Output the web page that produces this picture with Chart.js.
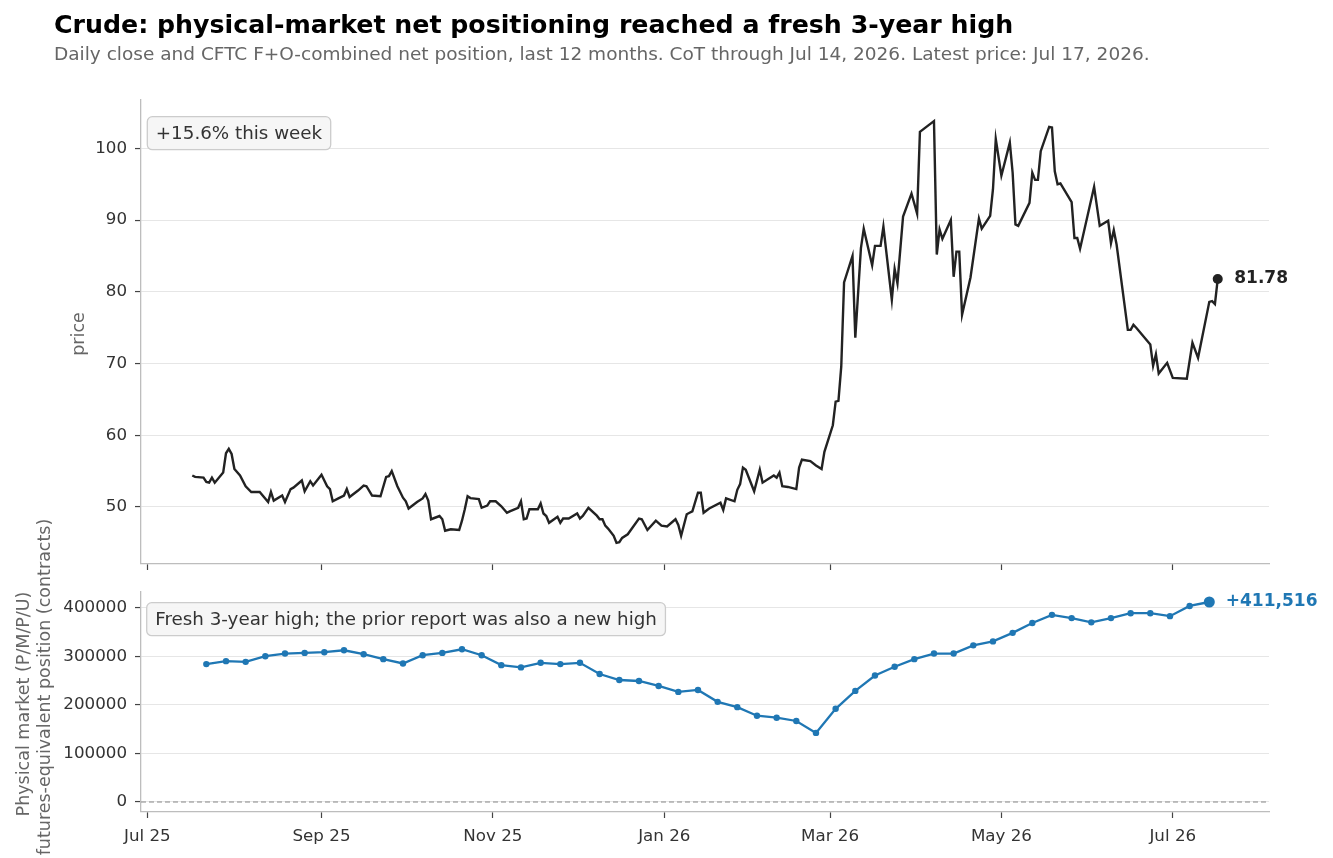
<!DOCTYPE html>
<html lang="en">
<head>
<meta charset="UTF-8">
<title>Crude: physical-market net positioning</title>
<script src="https://cdn.jsdelivr.net/npm/chart.js"></script>
<style>
    html, body { margin: 0; padding: 0; background: #fff; }
    body { width: 1333px; height: 858px; position: relative; overflow: hidden; font-family: 'DejaVu Sans', sans-serif; }
    .title { position: absolute; left: 54px; top: 12px; font-size: 25.25px; line-height: 1; font-weight: bold; color: #000; white-space: nowrap; z-index: 2; }
    .subtitle { position: absolute; left: 54px; top: 44.5px; font-size: 18.5px; line-height: 1; color: #666; white-space: nowrap; z-index: 2; }
    .wrap { position: absolute; left: 0; width: 1333px; }
    #topWrap { top: 0; height: 575px; }
    #botWrap { top: 480px; height: 378px; }
</style>
</head>
<body>
    <div class="wrap" id="topWrap"><canvas id="priceChart"></canvas></div>
    <div class="wrap" id="botWrap"><canvas id="cotChart"></canvas></div>
    <div class="title">Crude: physical-market net positioning reached a fresh 3-year high</div>
    <div class="subtitle">Daily close and CFTC F+O-combined net position, last 12 months. CoT through Jul 14, 2026. Latest price: Jul 17, 2026.</div>

<script>
// Price: daily close (vertices)
const priceDates = [
    '2025-07-17', '2025-07-18', '2025-07-21', '2025-07-22', '2025-07-23', '2025-07-24', '2025-07-25', '2025-07-28', '2025-07-29', '2025-07-30',
    '2025-07-31', '2025-08-01', '2025-08-03', '2025-08-05', '2025-08-07', '2025-08-10', '2025-08-13', '2025-08-14', '2025-08-15', '2025-08-18',
    '2025-08-19', '2025-08-21', '2025-08-22', '2025-08-25', '2025-08-26', '2025-08-28', '2025-08-29', '2025-09-01', '2025-09-03', '2025-09-04',
    '2025-09-05', '2025-09-07', '2025-09-09', '2025-09-10', '2025-09-11', '2025-09-14', '2025-09-16', '2025-09-17', '2025-09-19', '2025-09-22',
    '2025-09-24', '2025-09-25', '2025-09-26', '2025-09-28', '2025-09-30', '2025-10-01', '2025-10-02', '2025-10-05', '2025-10-07', '2025-10-08',
    '2025-10-09', '2025-10-10', '2025-10-13', '2025-10-14', '2025-10-15', '2025-10-17', '2025-10-20', '2025-10-21', '2025-10-22', '2025-10-23',
    '2025-10-24', '2025-10-27', '2025-10-28', '2025-10-30', '2025-10-31', '2025-11-02', '2025-11-04', '2025-11-06', '2025-11-07', '2025-11-10',
    '2025-11-11', '2025-11-12', '2025-11-13', '2025-11-14', '2025-11-17', '2025-11-18', '2025-11-19', '2025-11-20', '2025-11-21', '2025-11-24',
    '2025-11-25', '2025-11-26', '2025-11-28', '2025-12-01', '2025-12-02', '2025-12-03', '2025-12-05', '2025-12-08', '2025-12-09', '2025-12-10',
    '2025-12-11', '2025-12-12', '2025-12-14', '2025-12-15', '2025-12-16', '2025-12-17', '2025-12-19', '2025-12-23', '2025-12-24', '2025-12-26',
    '2025-12-29', '2025-12-31', '2026-01-02', '2026-01-05', '2026-01-06', '2026-01-07', '2026-01-09', '2026-01-10', '2026-01-11', '2026-01-13',
    '2026-01-14', '2026-01-15', '2026-01-17', '2026-01-21', '2026-01-22', '2026-01-23', '2026-01-26', '2026-01-27', '2026-01-28', '2026-01-29',
    '2026-01-30', '2026-02-02', '2026-02-04', '2026-02-05', '2026-02-07', '2026-02-09', '2026-02-10', '2026-02-11', '2026-02-12', '2026-02-14',
    '2026-02-17', '2026-02-18', '2026-02-19', '2026-02-22', '2026-02-24', '2026-02-26', '2026-02-27', '2026-03-02', '2026-03-03', '2026-03-04',
    '2026-03-05', '2026-03-06', '2026-03-09', '2026-03-10', '2026-03-12', '2026-03-13', '2026-03-16', '2026-03-17', '2026-03-19', '2026-03-20',
    '2026-03-23', '2026-03-24', '2026-03-25', '2026-03-27', '2026-03-30', '2026-04-01', '2026-04-02', '2026-04-05', '2026-04-07', '2026-04-08',
    '2026-04-09', '2026-04-10', '2026-04-13', '2026-04-14', '2026-04-15', '2026-04-16', '2026-04-17', '2026-04-20', '2026-04-23', '2026-04-24',
    '2026-04-27', '2026-04-28', '2026-04-29', '2026-05-01', '2026-05-04', '2026-05-05', '2026-05-06', '2026-05-07', '2026-05-11', '2026-05-12',
    '2026-05-13', '2026-05-14', '2026-05-15', '2026-05-18', '2026-05-19', '2026-05-20', '2026-05-21', '2026-05-22', '2026-05-26', '2026-05-27',
    '2026-05-28', '2026-05-29', '2026-06-03', '2026-06-05', '2026-06-08', '2026-06-09', '2026-06-10', '2026-06-11', '2026-06-15', '2026-06-16',
    '2026-06-17', '2026-06-18', '2026-06-23', '2026-06-24', '2026-06-25', '2026-06-26', '2026-06-29', '2026-07-01', '2026-07-06', '2026-07-08',
    '2026-07-10', '2026-07-14', '2026-07-15', '2026-07-16', '2026-07-17'
];
const priceValues = [
    54.4, 54.2, 54.1, 53.5, 53.4, 54.1, 53.4, 54.8, 57.5, 58.1,
    57.4, 55.3, 54.4, 52.9, 52.1, 52.1, 50.7, 52.1, 50.9, 51.6,
    50.7, 52.5, 52.7, 53.7, 52.2, 53.6, 53.0, 54.5, 52.9, 52.5,
    50.8, 51.2, 51.6, 52.5, 51.4, 52.3, 53.0, 52.9, 51.6, 51.5,
    54.2, 54.3, 55.0, 52.9, 51.3, 50.8, 49.8, 50.7, 51.2, 51.8,
    50.9, 48.3, 48.75, 48.3, 46.7, 46.9, 46.8, 48.1, 49.7, 51.5,
    51.25, 51.1, 49.9, 50.2, 50.8, 50.8, 50.1, 49.2, 49.4, 49.9,
    50.8, 48.3, 48.4, 49.7, 49.7, 50.5, 49.1, 48.75, 47.8, 48.65,
    47.8, 48.4, 48.4, 49.1, 48.4, 48.75, 49.9, 48.8, 48.3, 48.3,
    47.4, 47.0, 46.0, 45.0, 45.1, 45.7, 46.2, 48.4, 48.3, 46.8,
    48.1, 47.4, 47.3, 48.3, 47.5, 46.0, 49.0, 49.2, 49.4, 52.0,
    52.0, 49.2, 49.8, 50.6, 49.6, 51.2, 50.8, 52.4, 53.2, 55.5,
    55.2, 52.2, 55.2, 53.4, 53.9, 54.4, 54.1, 54.8, 52.9, 52.8,
    52.5, 55.5, 56.6, 56.4, 55.8, 55.3, 57.7, 61.4, 64.7, 64.8,
    69.6, 81.3, 85.0, 73.6, 86.1, 88.8, 83.7, 86.4, 86.4, 89.1,
    78.9, 83.2, 81.2, 90.5, 93.7, 90.9, 102.3, 103.2, 103.8, 85.2,
    88.7, 87.4, 90.0, 82.1, 85.6, 85.6, 76.8, 82.0, 90.2, 88.8,
    90.6, 94.3, 101.3, 96.2, 100.8, 96.6, 89.4, 89.2, 92.4, 96.6,
    95.6, 95.6, 99.6, 103.0, 102.9, 96.8, 95.0, 95.1, 92.5, 87.5,
    87.5, 86.0, 94.65, 89.2, 89.9, 86.8, 88.6, 86.6, 74.7, 74.7,
    75.4, 75.0, 72.65, 69.7, 71.3, 68.6, 70.1, 68.0, 67.9, 72.9,
    70.8, 78.6, 78.7, 78.3, 81.78
];

// CoT report dates (Tuesdays) and physical-market net position, contracts
const cotDates = [
    '2025-07-22', '2025-07-29', '2025-08-05', '2025-08-12', '2025-08-19', '2025-08-26', '2025-09-02', '2025-09-09', '2025-09-16', '2025-09-23',
    '2025-09-30', '2025-10-07', '2025-10-14', '2025-10-21', '2025-10-28', '2025-11-04', '2025-11-11', '2025-11-18', '2025-11-25', '2025-12-02',
    '2025-12-09', '2025-12-16', '2025-12-23', '2025-12-30', '2026-01-06', '2026-01-13', '2026-01-20', '2026-01-27', '2026-02-03', '2026-02-10',
    '2026-02-17', '2026-02-24', '2026-03-03', '2026-03-10', '2026-03-17', '2026-03-24', '2026-03-31', '2026-04-07', '2026-04-14', '2026-04-21',
    '2026-04-28', '2026-05-05', '2026-05-12', '2026-05-19', '2026-05-26', '2026-06-02', '2026-06-09', '2026-06-16', '2026-06-23', '2026-06-30',
    '2026-07-07', '2026-07-14'
];
const netPhysical = [
    283700, 289800, 288400, 300000, 305400, 306800, 308200, 312200, 304100, 293900,
    285000, 302000, 306800, 314300, 302000, 281600, 276900, 286400, 283700, 286400,
    263300, 251000, 249000, 238800, 226500, 230600, 206100, 195200, 177600, 173500,
    166700, 142200, 191800, 228600, 260300, 278400, 293900, 305400, 305400, 322300,
    330400, 348000, 368200, 385100, 378400, 369600, 378400, 388500, 388500, 382400,
    403400, 411516
];

const monthTicks = ['2025-07-01', '2025-09-01', '2025-11-01', '2026-01-01', '2026-03-01', '2026-05-01', '2026-07-01'];
const monthLabels = ['Jul 25', 'Sep 25', 'Nov 25', 'Jan 26', 'Mar 26', 'May 26', 'Jul 26'];
const priceTicks = [50, 60, 70, 80, 90, 100];
const netTicks = [0, 100000, 200000, 300000, 400000];

const priceLabel = ['price'];
const netLabel = ['Physical market (P/M/P/U)', 'futures-equivalent position (contracts)'];
const weekNote = '+15.6% this week';
const cotNote = 'Fresh 3-year high; the prior report was also a new high';

// ---- helpers ----
const FONT = 'DejaVu Sans';
const DAY = 86400000;
const ORIGIN = Date.UTC(2025, 6, 1);
function dayNum(s) {
    const [y, m, d] = s.split('-').map(Number);
    return (Date.UTC(y, m - 1, d) - ORIGIN) / DAY;
}
function padRange(lo, hi) {
    const p = (hi - lo) * 0.05;
    return [lo - p, hi + p];
}

const priceDays = priceDates.map(dayNum);
const cotDays = cotDates.map(dayNum);
const [xMin, xMax] = padRange(Math.min(priceDays[0], cotDays[0]), Math.max(priceDays[priceDays.length - 1], cotDays[cotDays.length - 1]));
const [pMin, pMax] = padRange(Math.min(...priceValues), Math.max(...priceValues));
const [nMin, nMax] = padRange(Math.min(0, ...netPhysical), Math.max(...netPhysical));
const tickDays = monthTicks.map(dayNum);

function roundBox(ctx, x, y, w, h, r) {
    ctx.beginPath();
    ctx.moveTo(x + r, y);
    ctx.lineTo(x + w - r, y);
    ctx.arcTo(x + w, y, x + w, y + r, r);
    ctx.lineTo(x + w, y + h - r);
    ctx.arcTo(x + w, y + h, x + w - r, y + h, r);
    ctx.lineTo(x + r, y + h);
    ctx.arcTo(x, y + h, x, y + h - r, r);
    ctx.lineTo(x, y + r);
    ctx.arcTo(x, y, x + r, y, r);
    ctx.closePath();
}

// note box, last-value label, rotated axis label and optional zero line
const notes = {
    id: 'notes',
    beforeDatasetsDraw(chart, args, opts) {
        if (!opts.zeroLine) return;
        const { ctx, chartArea } = chart;
        const y = chart.scales.y.getPixelForValue(0);
        ctx.save();
        ctx.strokeStyle = '#888';
        ctx.lineWidth = 1.1;
        ctx.setLineDash([5, 3]);
        ctx.beginPath();
        ctx.moveTo(chartArea.left, y);
        ctx.lineTo(chartArea.right, y);
        ctx.stroke();
        ctx.restore();
    },
    afterDatasetsDraw(chart, args, opts) {
        const { ctx, chartArea } = chart;
        ctx.save();
        ctx.font = '18.3px "' + FONT + '"';
        const w = ctx.measureText(opts.text).width + 17;
        const x = chartArea.left + opts.dx, y = chartArea.top + opts.dy, h = 33;
        roundBox(ctx, x, y, w, h, 5);
        ctx.fillStyle = 'rgba(245,245,245,0.95)';
        ctx.fill();
        ctx.strokeStyle = '#cccccc';
        ctx.lineWidth = 1.3;
        ctx.stroke();
        ctx.fillStyle = '#333';
        ctx.textBaseline = 'middle';
        ctx.fillText(opts.text, x + 8.5, y + h / 2 + 1);

        const pts = chart.getDatasetMeta(0).data;
        const last = pts[pts.length - 1];
        ctx.font = 'bold 17px "' + FONT + '"';
        ctx.fillStyle = opts.endColor;
        ctx.fillText(opts.endText, last.x + 16.5, last.y);
        ctx.restore();

        // y-axis label, one rotated line per entry
        const mid = (chartArea.top + chartArea.bottom) / 2;
        ctx.save();
        ctx.font = '17.5px "' + FONT + '"';
        ctx.fillStyle = '#666';
        ctx.textAlign = 'center';
        ctx.textBaseline = 'alphabetic';
        opts.label.forEach((line, i) => {
            ctx.save();
            ctx.translate(opts.labelX + i * 20.7, mid + opts.labelShift[i]);
            ctx.rotate(-Math.PI / 2);
            ctx.fillText(line, 0, 0);
            ctx.restore();
        });
        ctx.restore();
    }
};

// keep the plot box exactly where the layout puts it
function noPad(s) {
    s.paddingTop = 0;
    s.paddingBottom = 0;
    s.paddingLeft = 0;
    s.paddingRight = 0;
}

function xScale(showLabels, height) {
    return {
        type: 'linear',
        min: xMin,
        max: xMax,
        afterBuildTicks: s => { s.ticks = tickDays.map(v => ({ value: v })); },
        afterFit: s => { s.height = height; noPad(s); },
        ticks: {
            display: showLabels,
            autoSkip: false,
            maxRotation: 0,
            padding: 8.5,
            color: '#333',
            font: { family: FONT, size: 16.7 },
            callback: (v, i) => monthLabels[i]
        },
        grid: { drawOnChartArea: false, tickLength: 6, tickColor: '#444', tickWidth: 1.2 },
        border: { color: '#bdbdbd', width: 1.3 }
    };
}

function yScale(min, max, ticks) {
    return {
        min: min,
        max: max,
        afterBuildTicks: s => { s.ticks = ticks.map(v => ({ value: v })); },
        afterFit: s => { s.width = 141; noPad(s); },
        ticks: {
            padding: 8,
            color: '#333',
            font: { family: FONT, size: 16.7 },
            callback: v => String(v)
        },
        grid: { color: '#e6e6e6', lineWidth: 1.1, tickLength: 6, tickColor: '#444', tickWidth: 1.2 },
        border: { color: '#bdbdbd', width: 1.3 },
        title: { display: false }
    };
}

Chart.defaults.font.family = FONT;

new Chart(document.getElementById('priceChart'), {
    type: 'line',
    data: {
        datasets: [{
            data: priceDays.map((d, i) => ({ x: d, y: priceValues[i] })),
            borderColor: '#222',
            backgroundColor: '#222',
            borderWidth: 2.4,
            tension: 0,
            pointRadius: c => c.dataIndex === priceValues.length - 1 ? 5 : 0,
            pointBorderWidth: 0
        }]
    },
    options: {
        responsive: true,
        maintainAspectRatio: false,
        animation: false,
        events: [],
        layout: { padding: { top: 100, right: 64, bottom: 0, left: 0 } },
        plugins: {
            legend: { display: false },
            tooltip: { enabled: false },
            notes: {
                text: weekNote, dx: 6.3, dy: 16.7,
                endText: priceValues[priceValues.length - 1].toFixed(2), endColor: '#222',
                label: priceLabel, labelX: 84, labelShift: [2]
            }
        },
        scales: {
            x: xScale(false, 11),
            y: yScale(pMin, pMax, priceTicks)
        }
    },
    plugins: [notes]
});

const lastNet = netPhysical[netPhysical.length - 1];
new Chart(document.getElementById('cotChart'), {
    type: 'line',
    data: {
        datasets: [{
            data: cotDays.map((d, i) => ({ x: d, y: netPhysical[i] })),
            borderColor: '#1f77b4',
            backgroundColor: '#1f77b4',
            borderWidth: 2.3,
            tension: 0,
            pointRadius: c => c.dataIndex === netPhysical.length - 1 ? 5.5 : 3.2,
            pointBorderWidth: 0
        }]
    },
    options: {
        responsive: true,
        maintainAspectRatio: false,
        animation: false,
        events: [],
        layout: { padding: { top: 112, right: 64, bottom: 0, left: 0 } },
        plugins: {
            legend: { display: false },
            tooltip: { enabled: false },
            notes: {
                text: cotNote, dx: 5.7, dy: 10.7,
                endText: '+' + lastNet.toLocaleString('en-US'), endColor: '#1f77b4', zeroLine: true,
                label: netLabel, labelX: 29.3, labelShift: [2, -15]
            }
        },
        scales: {
            x: xScale(true, 46),
            y: yScale(nMin, nMax, netTicks)
        }
    },
    plugins: [notes]
});
</script>
</body>
</html>
